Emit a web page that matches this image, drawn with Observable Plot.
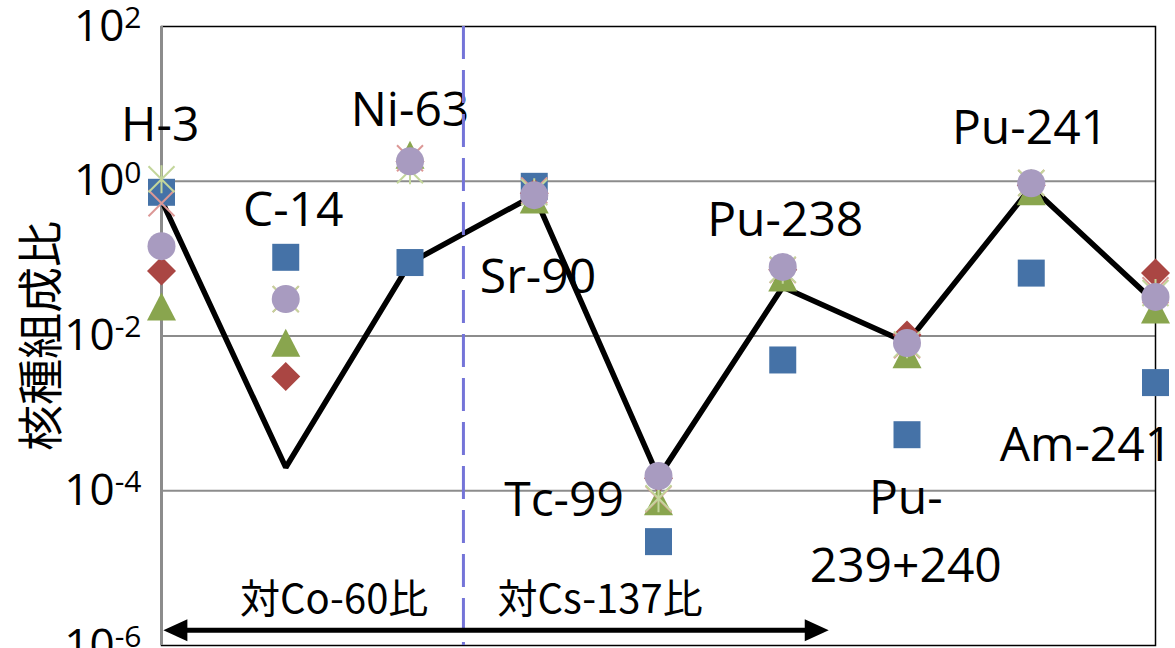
<!DOCTYPE html>
<html>
<head>
<meta charset="utf-8">
<script src="https://cdn.jsdelivr.net/npm/d3@7"></script>
<script src="https://cdn.jsdelivr.net/npm/@observablehq/plot@0.6"></script>
<style>
html, body { margin: 0; padding: 0; background: #fff; }
svg { display: block; }
</style>
</head>
<body>
<div id="chart"></div>
<script>
// ---------- data ----------
const nuclides = ["H-3", "C-14", "Ni-63", "Sr-90", "Tc-99", "Pu-238", "Pu-239+240", "Pu-241", "Am-241"];
const lineRatio      = [0.57, 2.0e-4, 0.088, 0.66, 1.5e-4, 0.043, 0.0082, 0.84, 0.027];
const squareSeries   = [0.72, 0.104, 0.089, 0.86, 2.2e-5, 0.0049, 5.3e-4, 0.065, 0.0025];
const diamondSeries  = [0.069, 0.0030, 1.8, 0.70, 1.45e-4, 0.072, 0.0103, 0.89, 0.065];
const triangleSeries = [0.024, 0.0082, 2.2, 0.58, 7.3e-5, 0.057, 0.0058, 0.74, 0.022];
const crossSeries    = [0.52, 0.030, 1.98, 0.76, 7.8e-5, 0.071, 0.0076, 0.95, 0.039];
const starSeries     = [1.06, 0.030, 1.39, 0.72, 8.0e-5, 0.072, 0.0078, 0.95, 0.036];
const circleSeries   = [0.145, 0.030, 1.81, 0.66, 1.55e-4, 0.078, 0.0081, 0.94, 0.032];
const yTicks = [1e2, 1, 1e-2, 1e-4, 1e-6];
const gridTicks = [1, 1e-2, 1e-4];
const rangeLabels = ["対Co-60比", "対Cs-137比"];
const yTitle = "核種組成比";

// ---------- helpers ----------
const rows = arr => arr.map((v, i) => ({i, v}));
const wrapName = n => n === "Pu-239+240" ? "Pu-\n239+240" : n;

// Excel-like marker shapes
const symSquare = {draw(c) { c.moveTo(-13.5, -13.5); c.lineTo(13.5, -13.5); c.lineTo(13.5, 13.5); c.lineTo(-13.5, 13.5); c.closePath(); }};
const symDiamond = {draw(c) { c.moveTo(0, -14.5); c.lineTo(14.5, 0); c.lineTo(0, 14.5); c.lineTo(-14.5, 0); c.closePath(); }};
const symTriangle = {draw(c) { c.moveTo(0, -14); c.lineTo(14.5, 14); c.lineTo(-14.5, 14); c.closePath(); }};
const symCross = {draw(c) { c.moveTo(-13, -13); c.lineTo(13, 13); c.moveTo(-13, 13); c.lineTo(13, -13); }};
const symStar = {draw(c) { c.moveTo(-13, -13); c.lineTo(13, 13); c.moveTo(-13, 13); c.lineTo(13, -13); c.moveTo(0, -14); c.lineTo(0, 14); }};
const symCircle = {draw(c) { c.moveTo(14, 0); c.arc(0, 0, 14, 0, 2 * Math.PI); c.closePath(); }};
const headLeft = {draw(c) { c.moveTo(0, 0); c.lineTo(24, -11); c.lineTo(24, 11); c.closePath(); }};
const headRight = {draw(c) { c.moveTo(0, 0); c.lineTo(-24, -11); c.lineTo(-24, 11); c.closePath(); }};

// annotation anchors (category index, ratio)
const labelAnchors = [
  {i: -0.01, v: 6.4}, {i: 1.06, v: 0.50}, {i: 2.0, v: 10}, {i: 3.03, v: 0.068},
  {i: 3.24, v: 8.9e-5}, {i: 5.02, v: 0.38}, {i: 5.99, v: 3.5e-5}, {i: 6.99, v: 5.85}, {i: 7.44, v: 4.7e-4}
];
const labelData = nuclides.map((n, k) => ({text: wrapName(n), ...labelAnchors[k]}));
const dividerX = 2.43;
const arrowY = 1.58e-6, arrowStart = 0.015, arrowEnd = 5.37;
const rangeLabelData = [{t: rangeLabels[0], i: 1.39, v: 3.9e-6}, {t: rangeLabels[1], i: 3.53, v: 3.9e-6}];

const fontLatin = "'Open Sans', 'Noto Sans CJK JP', sans-serif";
const fontCJK = "'Noto Sans CJK JP', 'Open Sans', sans-serif";

const chart = Plot.plot({
  width: 1175,
  height: 648,
  marginLeft: 161,
  marginRight: 20,
  marginTop: 26,
  marginBottom: 3,
  style: {fontFamily: fontLatin, fontSize: "44px", color: "black", background: "white", overflow: "visible"},
  x: {domain: [0, 8], axis: null},
  y: {
    type: "log", domain: [1e-6, 1e2], ticks: yTicks,
    tickFormat: d => "E" + Math.round(Math.log10(d)),
    tickSize: 0, tickPadding: 20, label: null
  },
  marks: [
    Plot.ruleY(gridTicks, {stroke: "#8c8c8c", strokeWidth: 2}),
    Plot.frame({stroke: "black", strokeWidth: 1.5}),
    Plot.ruleX([0], {stroke: "#8c8c8c", strokeWidth: 3}),
    Plot.line(rows(lineRatio), {x: "i", y: "v", stroke: "black", strokeWidth: 5.5, strokeLinejoin: "miter"}),
    Plot.dot(rows(squareSeries), {x: "i", y: "v", symbol: symSquare, fill: "#4572a7", stroke: "none"}),
    Plot.dot(rows(diamondSeries), {x: "i", y: "v", symbol: symDiamond, fill: "#aa4643", stroke: "none"}),
    Plot.dot(rows(triangleSeries), {x: "i", y: "v", symbol: symTriangle, fill: "#89a54e", stroke: "none"}),
    Plot.dot(rows(crossSeries), {x: "i", y: "v", symbol: symCross, fill: "none", stroke: "#dc9896", strokeWidth: 2}),
    Plot.dot(rows(starSeries), {x: "i", y: "v", symbol: symStar, fill: "none", stroke: "#c3d69b", strokeWidth: 2}),
    Plot.dot(rows(circleSeries), {x: "i", y: "v", symbol: symCircle, fill: "#a89bc0", stroke: "none"}),
    Plot.text(labelData, {x: "i", y: "v", text: "text", fontSize: 48, lineHeight: 1.42, fill: "black", ariaLabel: "nuclide labels"}),
    Plot.ruleX([dividerX], {stroke: "#7474d8", strokeWidth: 3, strokeDasharray: "33,11"}),
    Plot.link([{x1: arrowStart + 0.1, x2: arrowEnd - 0.1, y: arrowY}], {x1: "x1", x2: "x2", y1: "y", y2: "y", stroke: "black", strokeWidth: 5}),
    Plot.dot([{x: arrowStart, y: arrowY}], {x: "x", y: "y", symbol: headLeft, fill: "black", stroke: "none"}),
    Plot.dot([{x: arrowEnd, y: arrowY}], {x: "x", y: "y", symbol: headRight, fill: "black", stroke: "none"}),
    Plot.text(rangeLabelData, {x: "i", y: "v", text: "t", fontSize: 40, fontFamily: fontCJK, fill: "black"}),
    Plot.text([yTitle], {frameAnchor: "left", dx: -119, rotate: -90, textAnchor: "middle", text: d => d, fontSize: 46, fontFamily: fontCJK, fill: "black"})
  ]
});

document.getElementById("chart").append(chart);

// white label boxes behind data labels (Excel data-label style)
const NS = "http://www.w3.org/2000/svg";
chart.querySelectorAll('g[aria-label="nuclide labels"] text').forEach(t => {
  const b = t.getBBox();
  const r = document.createElementNS(NS, "rect");
  r.setAttribute("x", b.x - 6);
  r.setAttribute("y", b.y - 3);
  r.setAttribute("width", b.width + 12);
  r.setAttribute("height", b.height + 6);
  r.setAttribute("fill", "white");
  r.setAttribute("stroke", "none");
  if (t.getAttribute("transform")) r.setAttribute("transform", t.getAttribute("transform"));
  t.parentNode.insertBefore(r, t);
});

// power-of-ten tick labels with superscript exponents
chart.querySelectorAll("text").forEach(t => {
  const m = /^E(-?\d+)$/.exec(t.textContent);
  if (!m) return;
  t.textContent = "";
  const base = document.createElementNS(NS, "tspan");
  base.textContent = "10";
  const sup = document.createElementNS(NS, "tspan");
  sup.textContent = m[1];
  sup.setAttribute("font-size", "30px");
  sup.setAttribute("dy", "-0.42em");
  t.append(base, sup);
});
</script>
</body>
</html>
